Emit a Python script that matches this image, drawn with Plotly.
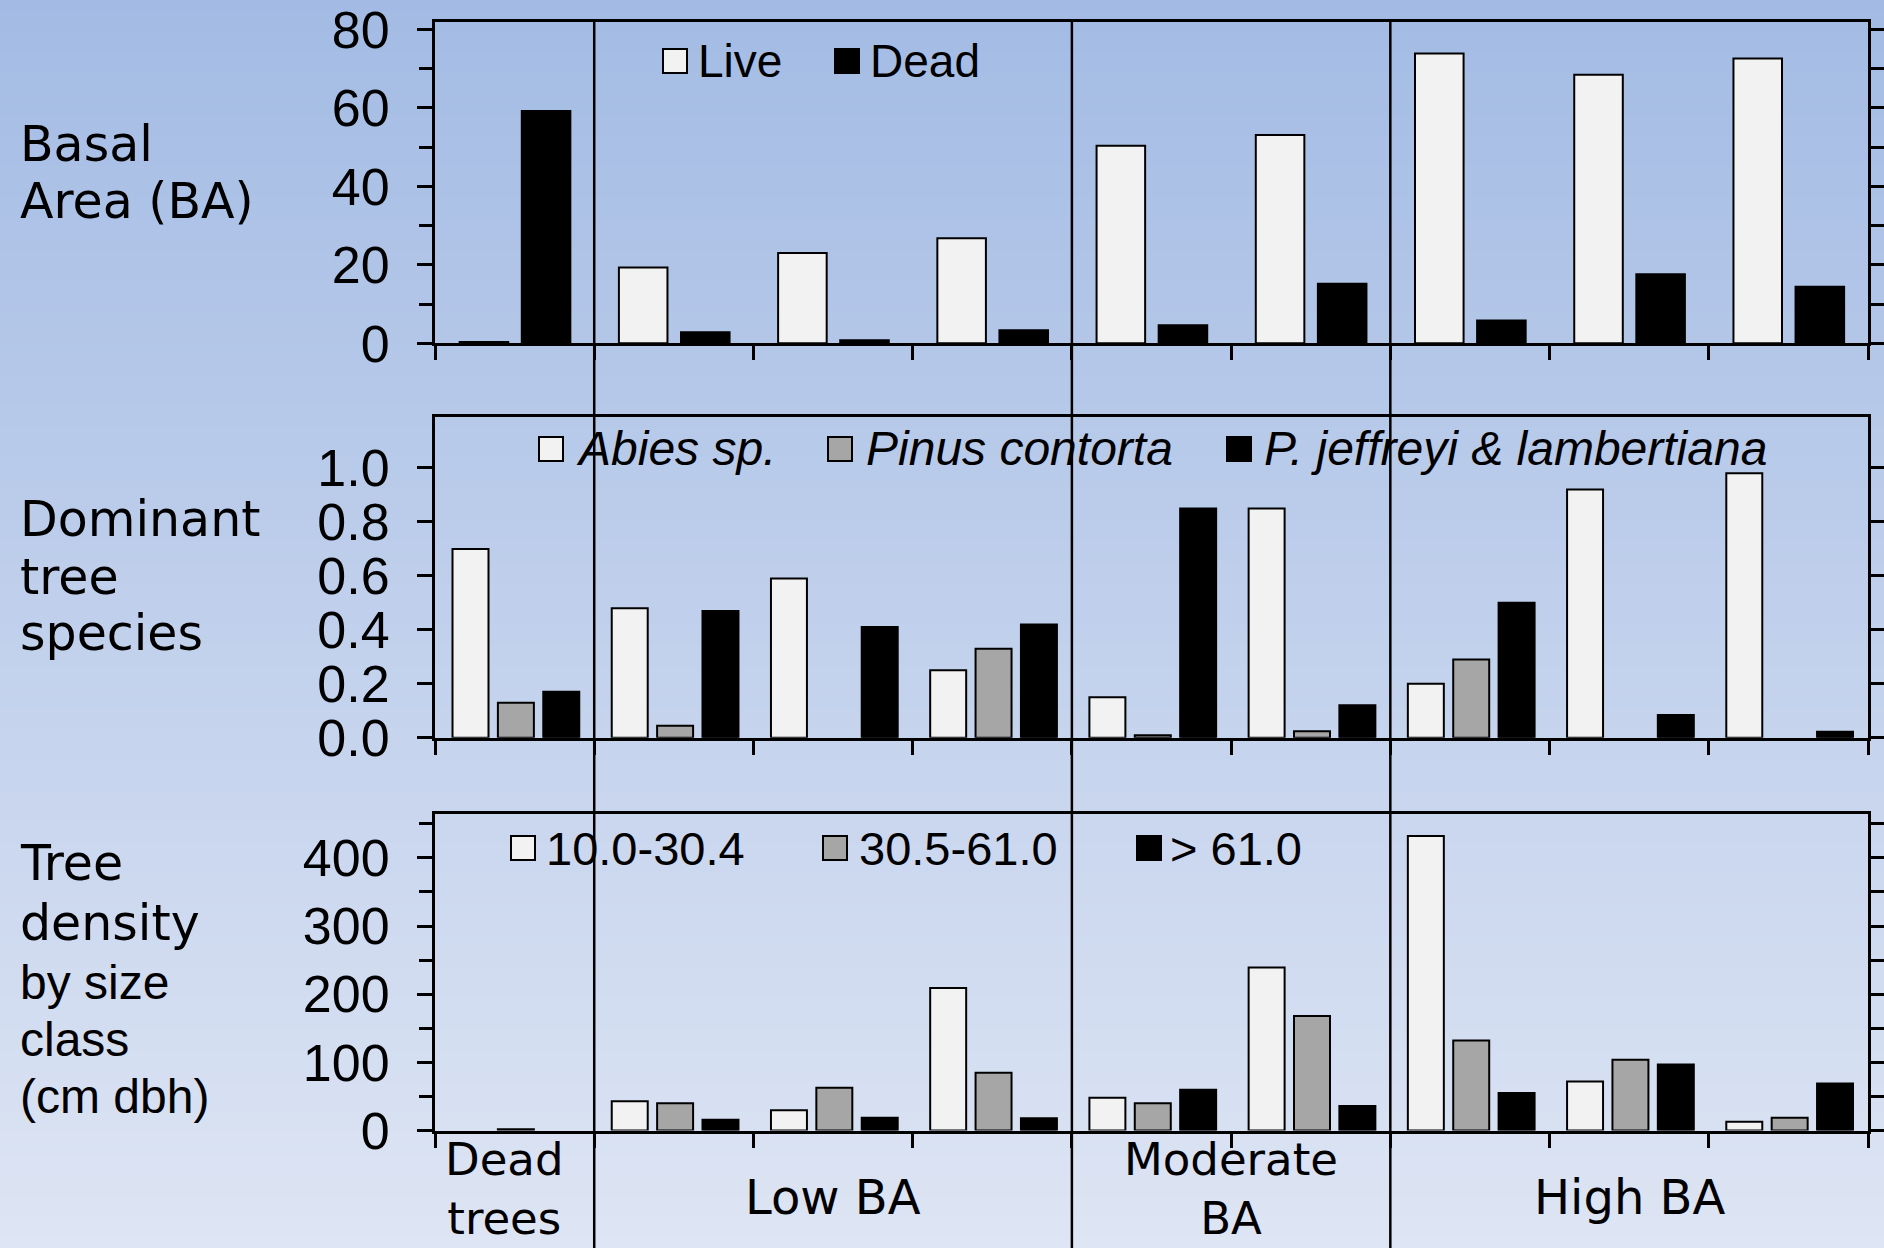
import plotly.graph_objects as go

# ---------------- data ----------------
categories = ["Dead trees", "Low BA 1", "Low BA 2", "Low BA 3", "Moderate BA 1",
              "Moderate BA 2", "High BA 1", "High BA 2", "High BA 3"]

# Panel 1: Basal area
ba_series = ["Live", "Dead"]
ba_live = [0.3, 19.3, 23.0, 26.8, 50.4, 53.1, 73.9, 68.5, 72.6]
ba_dead = [59.2, 2.8, 0.8, 3.3, 4.6, 15.2, 5.8, 17.6, 14.4]

# Panel 2: dominant tree species
sp_series = ["Abies sp.", "Pinus contorta", "P. jeffreyi & lambertiana"]
sp_abies = [0.70, 0.48, 0.59, 0.25, 0.15, 0.85, 0.20, 0.92, 0.98]
sp_pinus = [0.13, 0.044, 0.0, 0.33, 0.009, 0.024, 0.29, 0.0, 0.0]
sp_pjl = [0.17, 0.47, 0.41, 0.42, 0.85, 0.12, 0.50, 0.084, 0.022]

# Panel 3: tree density by size class
sz_series = ["10.0-30.4", "30.5-61.0", "> 61.0"]
sz_small = [0, 43, 30, 209, 48, 239, 432, 72, 13]
sz_mid = [2, 40, 63, 85, 40, 168, 132, 104, 19]
sz_big = [0, 16, 19, 18, 60, 36, 55, 97, 69]

row_labels = [["Basal", "Area (BA)"], ["Dominant", "tree", "species"],
              ["Tree", "density", "by size", "class", "(cm dbh)"]]
group_labels = ["Dead<br>trees", "Low BA", "Moderate<br>BA", "High BA"]

# ---------------- layout helpers ----------------
W, H = 1884, 1248
def px(x): return x / W
def py(y): return 1 - y / H

LIGHT, GRAY, BLACK = "#f2f2f2", "#a6a6a6", "#000000"
WIDE = "DejaVu Sans, Verdana, sans-serif"
ARIAL = "Liberation Sans, Arial, sans-serif"

xpos = list(range(len(categories)))
fig = go.Figure()

def add_bar(vals, color, offset, width, xa, ya, name):
    # zero values are not drawn (no outline stub), as in the original
    yv = [v if v else None for v in vals]
    fig.add_trace(go.Bar(
        x=xpos, y=yv, name=name, offset=offset, width=width,
        marker=dict(color=color, line=dict(color="black", width=2)),
        xaxis=xa, yaxis=ya, showlegend=False, hoverinfo="skip"))

add_bar(ba_live, LIGHT, -0.345, 0.305, "x", "y", ba_series[0])
add_bar(ba_dead, BLACK, 0.045, 0.305, "x", "y", ba_series[1])

offs3 = [-0.39, -0.105, 0.18]
w3 = 0.226
for vals, col, off, nm in zip([sp_abies, sp_pinus, sp_pjl], [LIGHT, GRAY, BLACK], offs3, sp_series):
    add_bar(vals, col, off, w3, "x2", "y2", nm)
for vals, col, off, nm in zip([sz_small, sz_mid, sz_big], [LIGHT, GRAY, BLACK], offs3, sz_series):
    add_bar(vals, col, off, w3, "x3", "y3", nm)

xdom = [px(435), px(1868)]
ydoms = [[py(343.3), py(21.7)], [py(737.7), py(416.7)], [py(1130.6), py(813.5)]]
yranges = [[0, 82], [0, 1.19], [0, 465]]
ymajor = [[0, 20, 40, 60, 80], [0, 0.2, 0.4, 0.6, 0.8, 1.0], [0, 100, 200, 300, 400]]
yminor = [[10, 30, 50, 70], [], [50, 150, 250, 350, 450]]
yfmt = ["d", ".1f", "d"]

bounds = [i - 0.5 for i in range(len(categories) + 1)]
for i in range(3):
    sfx = "" if i == 0 else str(i + 1)
    fig.layout["xaxis" + sfx] = dict(
        domain=xdom, anchor="y" + sfx, range=[-0.5, len(categories) - 0.5],
        tickvals=bounds, ticks="outside", ticklen=14, tickwidth=2.5, tickcolor="black",
        showticklabels=False, showline=True, linewidth=3, linecolor="black",
        mirror=True, showgrid=False, zeroline=False, fixedrange=True, automargin=False)
    fig.layout["yaxis" + sfx] = dict(
        domain=ydoms[i], anchor="x" + sfx, range=yranges[i],
        tickvals=ymajor[i], tickformat=yfmt[i], ticks="outside", ticklen=15,
        tickwidth=3, tickcolor="black", showline=True, linewidth=3, linecolor="black",
        mirror="ticks", showgrid=False, zeroline=False, fixedrange=True, automargin=False,
        tickfont=dict(family=ARIAL, size=52, color="black"), ticklabelstandoff=17,
        minor=dict(tickvals=yminor[i], ticks="outside", ticklen=13, tickwidth=3,
                   tickcolor="black", showgrid=False))

shapes = []
# gradient background
N = 120
top_c, bot_c = (163, 187, 228), (222, 229, 244)
for k in range(N):
    t = (k + 0.5) / N
    c = tuple(round(top_c[j] + (bot_c[j] - top_c[j]) * t) for j in range(3))
    shapes.append(dict(type="rect", xref="paper", yref="paper", x0=0, x1=1,
                       y0=1 - (k + 1) / N - 0.001, y1=1 - k / N,
                       fillcolor="rgb(%d,%d,%d)" % c, line=dict(width=0), layer="below"))

# group divider lines through all panels
for b in [0.5, 3.5, 5.5]:
    shapes.append(dict(type="line", xref="x", yref="paper", x0=b, x1=b, y0=0, y1=py(21.7),
                       line=dict(color="black", width=2.5), layer="above"))

annotations = []
# legends (swatch + label)
legend_specs = [
    (ba_series, [LIGHT, BLACK], [663, 835], [699, 871], 61, "normal", 46),
    (sp_series, [LIGHT, GRAY, BLACK], [539, 828, 1227], [577, 867, 1265], 449, "italic", 48),
    (sz_series, [LIGHT, GRAY, BLACK], [511, 823, 1137], [547, 860, 1171], 848, "normal", 47),
]
for names, cols, sx, tx, yc, style, fs in legend_specs:
    for nm, col, x0, x1t in zip(names, cols, sx, tx):
        shapes.append(dict(type="rect", xref="paper", yref="paper",
                           x0=px(x0), x1=px(x0 + 24), y0=py(yc + 12), y1=py(yc - 12),
                           fillcolor=col, line=dict(color="black", width=2), layer="above"))
        annotations.append(dict(text=nm, xref="paper", yref="paper", x=px(x1t - 3), y=py(yc),
                                xanchor="left", yanchor="middle", showarrow=False,
                                font=dict(family=ARIAL, size=fs, color="black", style=style)))

# row labels
row_y = [[144, 202], [519, 577, 633], [863, 923, 982, 1039, 1096]]
row_font = [[WIDE, WIDE], [WIDE, WIDE, WIDE], [WIDE, WIDE, ARIAL, ARIAL, ARIAL]]
for lines, ys, fonts in zip(row_labels, row_y, row_font):
    for txt, yy, fam in zip(lines, ys, fonts):
        annotations.append(dict(text=txt, xref="paper", yref="paper", x=px(18), y=py(yy),
                                xanchor="left", yanchor="middle", showarrow=False,
                                font=dict(family=fam, size=49 if fam == WIDE else 48, color="black")))

# group labels at bottom
grp_x = [504, 833, 1231, 1630]
for gx, txt in zip(grp_x, group_labels):
    two = "<br>" in txt
    annotations.append(dict(text=txt, xref="paper", yref="paper", x=px(gx),
                            y=py(1247) if two else py(1197),
                            xanchor="center", yanchor="bottom" if two else "middle",
                            showarrow=False,
                            font=dict(family=WIDE, size=45 if two else 48, color="black")))

fig.update_layout(
    width=W, height=H, margin=dict(l=0, r=0, t=0, b=0, autoexpand=False),
    paper_bgcolor="rgb(192,208,236)", plot_bgcolor="rgba(0,0,0,0)",
    barmode="overlay", showlegend=False, shapes=shapes, annotations=annotations,
)

fig.write_html("out.html", config={"displayModeBar": False},
               post_script="document.body.style.margin='0';document.body.style.overflow='hidden';")
